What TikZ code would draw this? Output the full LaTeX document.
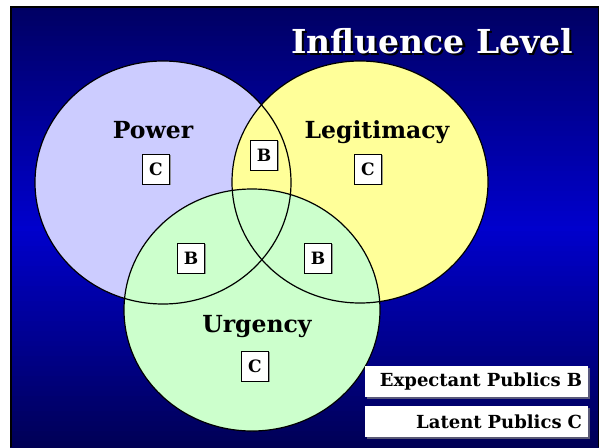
\documentclass[tikz,border=0pt]{standalone}
\usepackage{fontspec}
\setmainfont{DejaVu Serif}
\usetikzlibrary{shadows}
\definecolor{navytop}{RGB}{0,0,100}
\definecolor{navymid}{RGB}{0,0,205}
\definecolor{navybot}{RGB}{0,0,85}
\definecolor{powerc}{RGB}{204,204,255}
\definecolor{legitc}{RGB}{255,255,153}
\definecolor{urgc}{RGB}{204,255,204}
\begin{document}
\begin{tikzpicture}[x=1pt,y=-1pt,
  outline/.style={draw=black, line width=1.2pt},
  lbl/.style={font=\bfseries\fontsize{23.5}{28}\selectfont, text=black, inner sep=0pt, anchor=base},
  tag/.style={draw=black, line width=0.6pt, fill=white, minimum width=27pt, minimum height=30pt,
    inner sep=0pt, font=\bfseries\fontsize{17}{20}\selectfont,
    drop shadow={shadow xshift=1.2pt, shadow yshift=-1.2pt, fill=gray, opacity=0.8}},
  legbox/.style={fill=white, text width=211pt, align=right, inner xsep=6pt, inner ysep=0pt,
    minimum height=31pt, font=\bfseries\fontsize{18}{21}\selectfont,
    drop shadow={shadow xshift=1.5pt, shadow yshift=-1.5pt, fill=gray, opacity=0.7}},
  titlef/.style={font=\bfseries\fontsize{33}{40}\selectfont, inner sep=0pt, anchor=base}]
\useasboundingbox (0,0) rectangle (602,447);
\fill[white] (0,0) rectangle (602,447);
% vertical gradient background
\foreach \i in {0,...,88} {
  \pgfmathsetmacro\yy{6+\i*5}
  \pgfmathtruncatemacro\p{\i<44 ? 100*\i/44 : 100*(88-\i)/44}
  \ifnum\i<44 \colorlet{strip}{navymid!\p!navytop}\else\colorlet{strip}{navymid!\p!navybot}\fi
  \fill[strip] (10,\yy) rectangle (599,\yy+5.4);
}
\draw[black, line width=1.5pt] (10.75,447) -- (10.75,6.75) -- (598.25,6.75) -- (598.25,447);
% circles
\fill[powerc] (163,182.5) ellipse [x radius=128pt, y radius=121.5pt];
\fill[legitc] (360,182) ellipse [x radius=128pt, y radius=121pt];
\fill[urgc] (252,310) ellipse [x radius=128pt, y radius=121pt];
\draw[outline] (163,182.5) ellipse [x radius=128pt, y radius=121.5pt];
\draw[outline] (360,182) ellipse [x radius=128pt, y radius=121pt];
\draw[outline] (252,310) ellipse [x radius=128pt, y radius=121pt];
% title with shadow
\node[titlef, text=white] (title) at (432,53)
  {\rlap{\hspace{2.5pt}\raisebox{-2.5pt}{\color{black}Influence Level}}Influence Level};
% labels
\node[lbl] (power) at (153,138) {Power};
\node[lbl] (legit) at (377,138) {Legitimacy};
\node[lbl] (urgency) at (257,332) {Urgency};
% tags
\node[tag] (pc) at (156,169) {C};
\node[tag] (lc) at (368,169) {C};
\node[tag] (plb) at (264,155) {B};
\node[tag] (pub) at (191,258) {B};
\node[tag] (lub) at (318,258) {B};
\node[tag] (uc) at (255,366) {C};
% legend
\node[legbox] (expect) at (476.5,381.5) {Expectant Publics B};
\node[legbox] (latent) at (476.5,421.5) {Latent Publics C};
\end{tikzpicture}
\end{document}
